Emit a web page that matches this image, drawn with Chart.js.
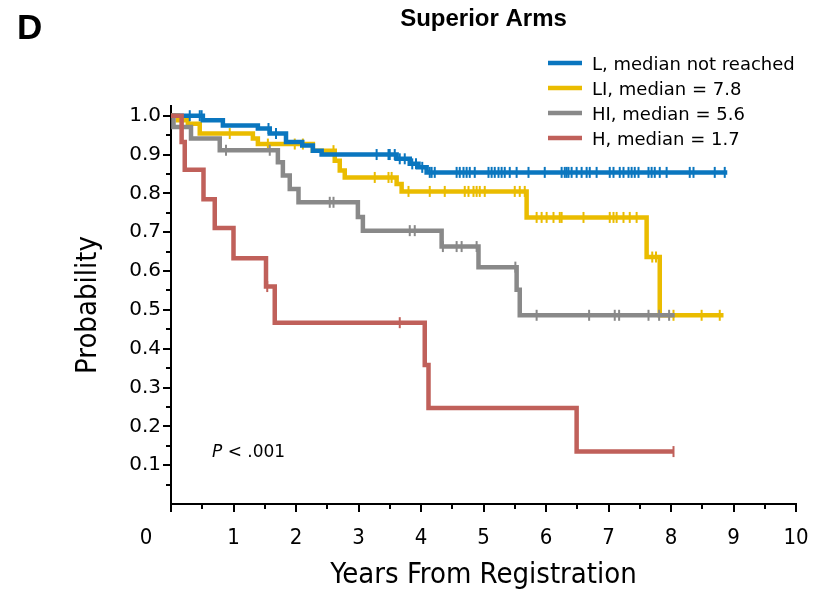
<!DOCTYPE html>
<html>
<head>
<meta charset="utf-8">
<script src="https://cdn.jsdelivr.net/npm/chart.js@4.4.1/dist/chart.umd.min.js"></script>
<style>
  html, body { margin: 0; padding: 0; background: #fff; }
  #wrap { width: 815px; height: 595px; position: relative; }
</style>
</head>
<body>
<div id="wrap"><canvas id="km"></canvas></div>
<script>
// Kaplan-Meier steps: time (years) where each level starts, and the level
const lTimes = [0, 0.51, 0.83, 1.39, 1.58, 1.84, 2.10, 2.27, 2.41, 3.61, 3.82, 3.96, 4.09, 8.90];
const lSurv = [1.0, 0.988, 0.975, 0.967, 0.954, 0.932, 0.923, 0.910, 0.900, 0.889, 0.876, 0.867, 0.854, 0.854];
const lCensor = [0.30, 0.46, 0.49, 1.56, 1.68, 3.29, 3.48, 3.50, 3.58, 3.66, 3.74, 3.86, 3.92, 4.02, 4.14, 4.17,
  4.22, 4.57, 4.62, 4.68, 4.73, 4.78, 4.86, 5.08, 5.13, 5.18, 5.24, 5.29, 5.34, 5.42, 5.53, 5.72, 5.98, 6.25,
  6.30, 6.33, 6.36, 6.41, 6.49, 6.57, 6.65, 6.70, 6.81, 7.02, 7.08, 7.18, 7.24, 7.32, 7.37, 7.42, 7.48, 7.64,
  7.69, 7.74, 7.82, 7.93, 8.30, 8.36, 8.70, 8.86];

const liTimes = [0, 0.11, 0.27, 0.46, 1.31, 1.39, 2.27, 2.62, 2.70, 2.78, 3.61, 3.69, 5.69, 7.61, 7.82, 8.84];
const liSurv = [1.0, 0.988, 0.979, 0.954, 0.941, 0.927, 0.910, 0.884, 0.859, 0.841, 0.824, 0.805, 0.738, 0.636, 0.486, 0.486];
const liCensor = [0.94, 1.55, 1.98, 2.11, 2.60, 3.26, 3.48, 3.53, 3.80, 4.14, 4.38, 4.70, 4.76, 4.84, 4.89, 4.94,
  5.02, 5.50, 5.58, 5.66, 5.85, 5.93, 6.01, 6.12, 6.22, 6.25, 6.60, 7.02, 7.08, 7.13, 7.24, 7.34, 7.45, 7.70,
  7.76, 8.04, 8.49, 8.78];

const hiTimes = [0, 0.04, 0.32, 0.78, 1.71, 1.79, 1.90, 2.04, 2.99, 3.07, 4.33, 4.92, 5.53, 5.58, 8.06];
const hiSurv = [1.0, 0.971, 0.941, 0.911, 0.880, 0.846, 0.811, 0.777, 0.739, 0.704, 0.663, 0.610, 0.552, 0.486, 0.486];
const hiCensor = [0.88, 1.58, 2.54, 2.60, 3.82, 3.90, 4.35, 4.57, 4.65, 4.89, 5.51, 5.85, 6.69, 7.10, 7.17, 7.64, 7.81, 7.97];

const hTimes = [0, 0.17, 0.22, 0.52, 0.70, 1.00, 1.52, 1.66, 4.06, 4.12, 6.49, 8.04];
const hSurv = [1.0, 0.932, 0.861, 0.785, 0.711, 0.633, 0.560, 0.467, 0.358, 0.247, 0.135, 0.135];
const hCensor = [1.54, 3.66, 8.04];

const groupNames = ['L, median not reached', 'LI, median = 7.8', 'HI, median = 5.6', 'H, median = 1.7'];
const groupColors = ['#0a76bf', '#eabc00', '#898989', '#c0605a'];

const xTickValues = [0, 0.5, 1, 1.5, 2, 2.5, 3, 3.5, 4, 4.5, 5, 5.5, 6, 6.5, 7, 7.5, 8, 8.5, 9, 9.5, 10];
const xTickLabels = ['0', '1', '2', '3', '4', '5', '6', '7', '8', '9', '10'];
const yTickValues = [0.05, 0.1, 0.15, 0.2, 0.25, 0.3, 0.35, 0.4, 0.45, 0.5, 0.55, 0.6, 0.65, 0.7, 0.75, 0.8, 0.85, 0.9, 0.95, 1.0];
const yMajor = [0.1, 0.2, 0.3, 0.4, 0.5, 0.6, 0.7, 0.8, 0.9, 1.0];
const yTickLabels = ['0.1', '0.2', '0.3', '0.4', '0.5', '0.6', '0.7', '0.8', '0.9', '1.0'];

const narrow = "'Liberation Sans Narrow', 'DejaVu Sans Condensed', 'Arial Narrow', sans-serif";

function steps(times, surv) {
  return times.map((t, i) => ({ x: t, y: surv[i] }));
}

// censor ticks sit on the curve level in force at that time
function levelAt(times, surv, t) {
  let s = surv[0];
  for (let i = 0; i < times.length; i++) if (times[i] <= t) s = surv[i];
  return s;
}

function censorPoints(times, surv, cens) {
  return cens.map(t => ({ x: t, y: levelAt(times, surv, t) }));
}

const groups = [
  [lTimes, lSurv, lCensor],
  [liTimes, liSurv, liCensor],
  [hiTimes, hiSurv, hiCensor],
  [hTimes, hSurv, hCensor],
];
const drawOrder = [2, 3, 1, 0];

const datasets = [];
groups.forEach(([t, s, c], i) => {
  datasets.push({
    label: groupNames[i],
    data: steps(t, s),
    stepped: 'before',
    borderColor: groupColors[i],
    borderWidth: 4.5,
    pointRadius: 0,
    fill: false,
    order: drawOrder[i],
  });
});
groups.forEach(([t, s, c], i) => {
  datasets.push({
    label: '',
    data: censorPoints(t, s, c),
    showLine: false,
    pointStyle: 'line',
    rotation: 90,
    radius: 5.5,
    borderColor: groupColors[i],
    borderWidth: 2,
    order: drawOrder[i],
  });
});

const extras = {
  id: 'extras',
  afterDraw(chart) {
    const { ctx, chartArea, scales: { x, y } } = chart;
    ctx.save();

    // outward tick marks, shorter for minor steps
    ctx.strokeStyle = '#000';
    ctx.lineWidth = 2;
    ctx.beginPath();
    yTickValues.forEach(v => {
      const py = Math.round(y.getPixelForValue(v));
      const len = yMajor.includes(v) ? 8 : 5;
      ctx.moveTo(chartArea.left - len, py);
      ctx.lineTo(chartArea.left, py);
    });
    xTickValues.forEach(v => {
      const px = Math.round(x.getPixelForValue(v));
      const len = Number.isInteger(v) ? 8 : 5;
      ctx.moveTo(px, chartArea.bottom);
      ctx.lineTo(px, chartArea.bottom + len);
    });
    ctx.stroke();

    // the zero label stands off to the left of the corner
    ctx.fillStyle = '#000';
    ctx.font = "22px " + narrow;
    ctx.textAlign = 'center';
    ctx.textBaseline = 'middle';
    ctx.fillText(xTickLabels[0], 146, 538);

    // panel letter
    ctx.textAlign = 'left';
    ctx.textBaseline = 'alphabetic';
    ctx.font = "bold 35px 'Liberation Sans', Arial, sans-serif";
    ctx.fillText('D', 17, 39);

    // p value
    ctx.font = "italic 17px 'DejaVu Sans', sans-serif";
    ctx.fillText('P', 212, 457);
    const pw = ctx.measureText('P').width;
    ctx.font = "17px 'DejaVu Sans', sans-serif";
    ctx.fillText(' < .001', 212 + pw, 457);

    // legend
    ctx.font = "18px 'DejaVu Sans', sans-serif";
    groupNames.forEach((name, i) => {
      const ry = 63 + i * 25;
      ctx.strokeStyle = groupColors[i];
      ctx.lineWidth = 4.5;
      ctx.beginPath();
      ctx.moveTo(548, ry);
      ctx.lineTo(582, ry);
      ctx.stroke();
      ctx.fillStyle = '#000';
      ctx.fillText(name, 592, ry + 6.5);
    });

    ctx.restore();
  }
};

new Chart(document.getElementById('km'), {
  type: 'line',
  data: { datasets },
  plugins: [extras],
  options: {
    responsive: true,
    maintainAspectRatio: false,
    animation: false,
    layout: { padding: { left: 0, right: 19, top: 0, bottom: 0 } },
    plugins: {
      legend: { display: false },
      tooltip: { enabled: false },
      title: {
        display: true,
        text: 'Superior Arms',
        fullSize: false,
        color: '#000',
        font: { family: "'Liberation Sans', Arial, sans-serif", size: 24, weight: 'bold' },
        padding: { top: 5, bottom: 72.2 },
      },
    },
    scales: {
      x: {
        type: 'linear',
        min: 0,
        max: 10,
        afterBuildTicks: s => { s.ticks = xTickValues.map(v => ({ value: v })); },
        afterFit: s => {
          s.height = 91;
          s.paddingLeft = 0;
          s.paddingRight = 0;
        },
        grid: { drawOnChartArea: false, drawTicks: false },
        border: { display: true, color: '#000', width: 2 },
        ticks: {
          autoSkip: false,
          maxRotation: 0,
          padding: 21,
          color: '#000',
          font: { family: narrow, size: 22 },
          callback: v => (Number.isInteger(v) && v > 0 ? xTickLabels[v] : ''),
        },
        title: {
          display: true,
          text: 'Years From Registration',
          color: '#000',
          font: { family: narrow, size: 29 },
          padding: { top: 0, bottom: 2 },
        },
      },
      y: {
        type: 'linear',
        min: 0,
        max: 1.025,
        afterBuildTicks: s => { s.ticks = yTickValues.map(v => ({ value: v })); },
        afterFit: s => {
          s.width = 171;
          s.paddingTop = 0;
          s.paddingBottom = 0;
        },
        grid: { drawOnChartArea: false, drawTicks: false },
        border: { display: true, color: '#000', width: 2 },
        ticks: {
          autoSkip: false,
          padding: 10,
          color: '#000',
          font: { family: "'DejaVu Sans', sans-serif", size: 20 },
          callback: v => {
            const k = yMajor.indexOf(v);
            return k >= 0 ? yTickLabels[k] : '';
          },
        },
        title: {
          display: true,
          text: 'Probability',
          color: '#000',
          font: { family: narrow, size: 29 },
          padding: { top: 71 },
        },
      },
    },
  },
});
</script>
</body>
</html>
